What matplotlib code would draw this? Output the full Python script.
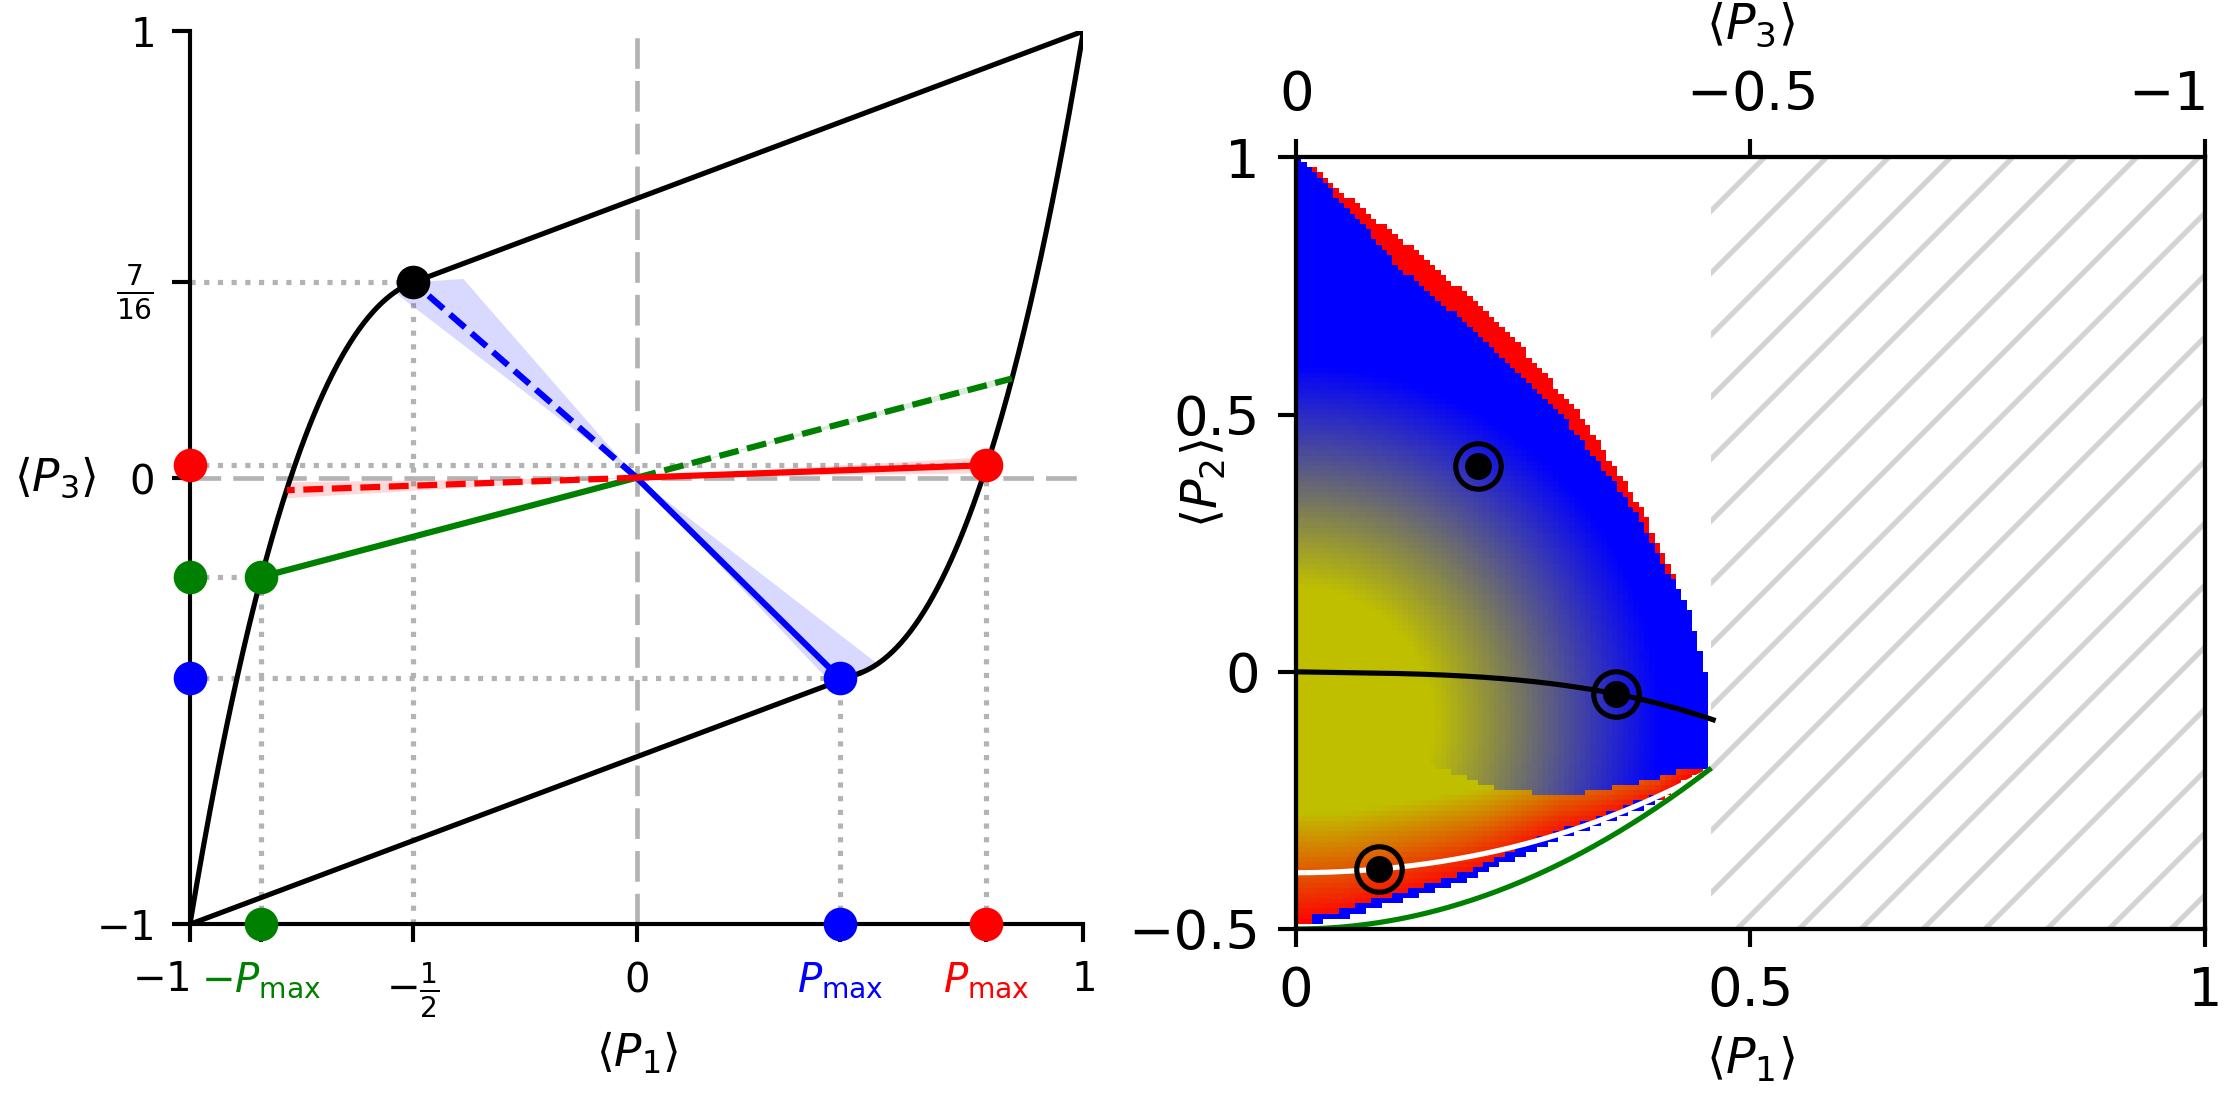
import numpy as np
import matplotlib
matplotlib.use('Agg')
import matplotlib.pyplot as plt
from matplotlib.patches import Rectangle, Polygon

plt.rcParams['font.family'] = ['DejaVu Sans']
plt.rcParams['mathtext.fontset'] = 'dejavusans'
plt.rcParams['hatch.linewidth'] = 1.0
plt.rcParams['hatch.color'] = 'lightgray'

# ---------------- Left panel data ----------------
curve_left_P1 = [-1.0, -0.95, -0.9, -0.85, -0.8, -0.75, -0.7, -0.65, -0.6, -0.55, -0.5]
curve_left_P3 = [-1.0, -0.7184, -0.4725, -0.2603, -0.08, 0.0703, 0.1925, 0.2884, 0.36, 0.4091, 0.4375]
curve_right_P1 = [0.5, 0.55, 0.6, 0.65, 0.7, 0.75, 0.8, 0.85, 0.9, 0.95, 1.0]
curve_right_P3 = [-0.4375, -0.4091, -0.36, -0.2884, -0.1925, -0.0703, 0.08, 0.2603, 0.4725, 0.7184, 1.0]
upper_line_P1 = [-0.5, 1.0]
upper_line_P3 = [0.4375, 1.0]
lower_line_P1 = [-1.0, 0.5]
lower_line_P3 = [-1.0, -0.4375]

black_pt = (-0.5, 0.4375)
blue_pt = (0.455, -0.449)
red_pt = (0.783, 0.028)
green_pt = (-0.84, -0.222)
green_far = (0.84, 0.222)
red_far = (-0.783, -0.028)

blue_cone_up_P1 = [0.0, -0.388, -0.5, -0.542]
blue_cone_up_P3 = [0.0, 0.445, 0.4375, 0.415]
blue_cone_lo_P1 = [0.0, 0.425, 0.47, 0.5, 0.537]
blue_cone_lo_P3 = [0.0, -0.449, -0.445, -0.4375, -0.415]
red_spread = 0.018
green_spread = 0.008

left_xticks = [-1, green_pt[0], -0.5, 0, blue_pt[0], red_pt[0], 1]
left_xticklabels = ['$-1$', r'$-P_{\max}$', r'$-\frac{1}{2}$', '$0$', r'$P_{\max}$', r'$P_{\max}$', '$1$']
left_xtickcolors = ['black', 'green', 'black', 'black', 'blue', 'red', 'black']
left_yticks = [-1, 0, 7 / 16, 1]
left_yticklabels = ['$-1$', '$0$', r'$\frac{7}{16}$', '$1$']

# ---------------- Right panel data ----------------
outer_P2 = [1.0, 0.981, 0.907, 0.805, 0.669, 0.498, 0.319, 0.125, -0.023, -0.2]
outer_P1 = [0.0, 0.0165, 0.068, 0.141, 0.229, 0.313, 0.379, 0.431, 0.453, 0.456]
band_P2 = [1.0, 0.95, 0.92, 0.85, 0.79, 0.725, 0.66, 0.595, 0.53, 0.465, 0.40, 0.34, 0.28, 0.215, 0.15]
band_w = [0.0, 0.006, 0.014, 0.026, 0.04, 0.04, 0.036, 0.029, 0.022, 0.018, 0.013, 0.01, 0.007, 0.005, 0.0]
lower_P1 = [0.0, 0.02, 0.05, 0.085, 0.125, 0.16, 0.194, 0.214, 0.287, 0.323, 0.36, 0.397, 0.43, 0.445, 0.457]
lower_P2 = [-0.492, -0.488, -0.48, -0.46, -0.44, -0.42, -0.40, -0.385, -0.325, -0.305, -0.28, -0.255, -0.21, -0.197, -0.19]
div_P1 = [0.0, 0.14, 0.17, 0.2, 0.22, 0.26, 0.32, 0.36, 0.39, 0.41, 0.43, 0.457]
div_P2 = [-0.17, -0.179, -0.195, -0.214, -0.226, -0.235, -0.235, -0.22, -0.21, -0.2, -0.19, -0.185]
p1_cut = 0.456

black_P1 = [0.0, 0.1, 0.2, 0.3, 0.352, 0.4, 0.459]
black_P2 = [0.0, -0.003, -0.01, -0.027, -0.043, -0.063, -0.093]
white_P1 = [0.0, 0.109, 0.213, 0.323, 0.396, 0.447]
white_P2 = [-0.39, -0.383, -0.349, -0.294, -0.249, -0.197]
green_P1 = [0.0, 0.1, 0.2, 0.3, 0.4, 0.457]
green_P2 = [-0.5, -0.485, -0.44, -0.365, -0.26, -0.187]
circ_P1 = [0.2, 0.352, 0.091]
circ_P2 = [0.4, -0.043, -0.383]

right_xticks = [0, 0.5, 1]
right_xticklabels = ['0', '0.5', '1']
right_yticks = [-0.5, 0, 0.5, 1]
right_yticklabels = ['\u22120.5', '0', '0.5', '1']
top_ticks = [0, -0.5, -1]
top_ticklabels = ['$0$', '$-0.5$', '$-1$']

# colours of the map
col_yellow = np.array([0.75, 0.75, 0.0])
col_blue = np.array([0.0, 0.0, 1.0])
col_red = np.array([1.0, 0.0, 0.0])

# ---------------- Figure ----------------
DPI = 372
fig = plt.figure(figsize=(2232 / DPI, 1095 / DPI), dpi=DPI)
ax1 = fig.add_axes([0.0851, 0.1559, 0.4003, 0.8157])
ax2 = fig.add_axes([0.5806, 0.1516, 0.4073, 0.7047])

gray = '#b3b3b3'
dash = (0, (3.2, 1.4))
# ---- Left panel ----
ax1.set_xlim(-1, 1)
ax1.set_ylim(-1, 1)
for s in ['top', 'right']:
    ax1.spines[s].set_visible(False)

ax1.axvline(0, color=gray, lw=0.9, ls=(0, (6.6, 2.6)), zorder=1)
ax1.axhline(0, color=gray, lw=0.9, ls=(0, (6.6, 2.6)), zorder=1)

dot_kw = dict(color=gray, lw=1.0, ls=':', zorder=1)
for (px, py) in [black_pt, green_pt, blue_pt, red_pt]:
    ax1.plot([-1, px], [py, py], **dot_kw)
    ax1.plot([px, px], [-1, py], **dot_kw)

# boundary
for P1s, P3s in [(curve_left_P1, curve_left_P3), (curve_right_P1, curve_right_P3)]:
    c = np.polyfit(P1s, P3s, 3)
    xx = np.linspace(P1s[0], P1s[-1], 200)
    ax1.plot(xx, np.polyval(c, xx), color='black', lw=1.0, zorder=3)
ax1.plot(upper_line_P1, upper_line_P3, color='black', lw=1.0, zorder=3)
ax1.plot(lower_line_P1, lower_line_P3, color='black', lw=1.0, zorder=3)

# cones
ax1.add_patch(Polygon(np.column_stack([blue_cone_up_P1, blue_cone_up_P3]), closed=True,
                      facecolor='blue', alpha=0.15, lw=0, zorder=2))
ax1.add_patch(Polygon(np.column_stack([blue_cone_lo_P1, blue_cone_lo_P3]), closed=True,
                      facecolor='blue', alpha=0.15, lw=0, zorder=2))
for (ex, ey), sp, col in [(red_pt, red_spread, 'red'), (red_far, red_spread, 'red'),
                          (green_pt, green_spread, 'green'), (green_far, green_spread, 'green')]:
    ax1.add_patch(Polygon([[0, 0], [ex, ey + sp], [ex, ey - sp]], closed=True,
                          facecolor=col, alpha=0.15, lw=0, zorder=2))

lw_c = 1.2
ax1.plot([0, blue_pt[0]], [0, blue_pt[1]], color='blue', lw=lw_c, zorder=4)
ax1.plot([0, black_pt[0]], [0, black_pt[1]], color='blue', lw=lw_c, ls=dash, zorder=4)
ax1.plot([0, green_pt[0]], [0, green_pt[1]], color='green', lw=lw_c, zorder=4)
ax1.plot([0, green_far[0]], [0, green_far[1]], color='green', lw=lw_c, ls=dash, zorder=4)
ax1.plot([0, red_pt[0]], [0, red_pt[1]], color='red', lw=lw_c, zorder=4)
ax1.plot([0, red_far[0]], [0, red_far[1]], color='red', lw=lw_c, ls=dash, zorder=4)

ms = 5.5
ax1.plot([black_pt[0]], [black_pt[1]], 'o', color='black', ms=ms, zorder=5, clip_on=False)
for (px, py), col in [(blue_pt, 'blue'), (red_pt, 'red'), (green_pt, 'green')]:
    ax1.plot([px], [py], 'o', color=col, ms=ms, zorder=5, clip_on=False)
    ax1.plot([-1], [py], 'o', color=col, ms=ms, zorder=5, clip_on=False)
    ax1.plot([px], [-1], 'o', color=col, ms=ms, zorder=5, clip_on=False)

ax1.set_xticks(left_xticks)
ax1.set_xticklabels(left_xticklabels, fontsize=7.8)
for lab, col in zip(ax1.get_xticklabels(), left_xtickcolors):
    lab.set_color(col)
ax1.get_xticklabels()[0].set_ha('right')
ax1.set_yticks(left_yticks)
ax1.set_yticklabels(left_yticklabels, fontsize=7.8)
ax1.set_xlabel(r'$\langle P_1\rangle$', fontsize=8.8)
ax1.xaxis.set_label_coords(0.5, -0.144)
ax1.xaxis.label.set_va('center')
ax1.set_ylabel(r'$\langle P_3\rangle$', fontsize=8.8, rotation=0)
ax1.yaxis.set_label_coords(-0.151, 0.5)
ax1.yaxis.label.set_va('center')
ax1.yaxis.label.set_ha('center')

# ---- Right panel ----
nx, ny = 170, 150
xc = (np.arange(nx) + 0.5) / nx
yc = -0.5 + (np.arange(ny) + 0.5) * 1.5 / ny
X, Y = np.meshgrid(xc, yc)
xmax = np.interp(Y, outer_P2[::-1], outer_P1[::-1])
ylow = np.interp(X, lower_P1, lower_P2)
inside = (X <= xmax) & (Y >= ylow) & (X <= p1_cut)
ydiv = np.interp(X, div_P1, div_P2)
d = np.sqrt((X / 0.276) ** 2 + ((Y + 0.1) / 0.48) ** 2)
tb = np.clip(0.5 + (d - 1) / 0.9, 0, 1)
u = Y - ylow
scale_r = np.clip(0.22 - 0.25 * X, 0.1, None)
tr = np.clip(1 - u / scale_r, 0, 1)
rgb_up = (1 - tb)[..., None] * col_yellow + tb[..., None] * col_blue
rgb_lo = (1 - tr)[..., None] * col_yellow + tr[..., None] * col_red
rgb = np.where((Y >= ydiv)[..., None], rgb_up, rgb_lo)
w = np.interp(Y, band_P2[::-1], band_w[::-1])
rgb[inside & (X > xmax - w)] = col_red
rgb[inside & (u < 0.016) & (X > 0.02) & (X < 0.40)] = col_blue
rgba = np.dstack([rgb, inside.astype(float)])
ax2.imshow(rgba, extent=[0, 1, -0.5, 1], origin='lower', interpolation='nearest',
           aspect='auto', zorder=0)

ax2.add_patch(Rectangle((p1_cut + 0.001, -0.5), 1 - p1_cut, 1.5, facecolor='none',
                        edgecolor='lightgray', hatch='//', lw=0, zorder=1))

c = np.polyfit(black_P1, black_P2, 3)
xx = np.linspace(0, black_P1[-1], 200)
ax2.plot(xx, np.polyval(c, xx), color='black', lw=1.0, zorder=3)
c = np.polyfit(white_P1, white_P2, 3)
xx = np.linspace(0, white_P1[-1], 200)
ax2.plot(xx, np.polyval(c, xx), color='white', lw=1.0, zorder=3)
c = np.polyfit(green_P1, green_P2, 2)
xx = np.linspace(0, 0.445, 200)
ax2.plot(xx, np.polyval(c, xx), color='green', lw=1.0, zorder=3)
xx = np.linspace(0.445, green_P1[-1], 20)
ax2.plot(xx, np.polyval(c, xx), color='green', lw=1.0, ls='--', zorder=3)

ax2.plot(circ_P1, circ_P2, 'o', color='black', ms=4.2, ls='none', zorder=5)
ax2.plot(circ_P1, circ_P2, 'o', mfc='none', mec='black', mew=1.0, ms=8.8, ls='none', zorder=5)

ax2.set_xlim(0, 1)
ax2.set_ylim(-0.5, 1)
ax2.set_xticks(right_xticks)
ax2.set_xticklabels(right_xticklabels, fontsize=10.5)
ax2.set_yticks(right_yticks)
ax2.set_yticklabels(right_yticklabels, fontsize=10.5)
ax2.set_xlabel(r'$\langle P_1\rangle$', fontsize=9.5)
ax2.xaxis.set_label_coords(0.5, -0.169)
ax2.xaxis.label.set_va('center')
ax2.set_ylabel(r'$\langle P_2\rangle$', fontsize=9.5)
ax2.yaxis.set_label_coords(-0.102, 0.577)
ax2.yaxis.label.set_va('center')

ax3 = ax2.twiny()
ax3.set_xlim(0, -1)
ax3.set_xticks(top_ticks)
ax3.set_xticklabels(top_ticklabels, fontsize=10.5)
ax3.get_xticklabels()[-1].set_ha('right')
ax3.set_xlabel(r'$\langle P_3\rangle$', fontsize=9.5)
ax3.xaxis.set_label_coords(0.5, 1.172)
ax3.xaxis.label.set_va('center')

fig.savefig('out.png', dpi=DPI)
